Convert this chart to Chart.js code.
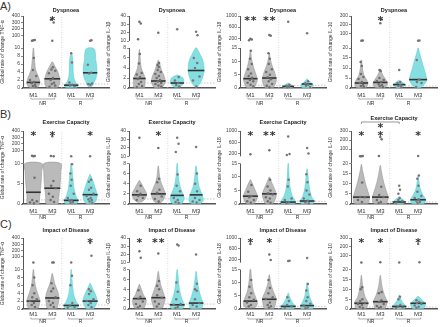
<!DOCTYPE html>
<html>
<head>
<meta charset="utf-8">
<script src="https://cdn.jsdelivr.net/npm/chart.js@4.4.0/dist/chart.umd.min.js"></script>
<style>
html, body { margin: 0; padding: 0; background: #fff; }
#fig { position: relative; width: 440px; height: 327px; overflow: hidden; font-family: "Liberation Sans", Arial, sans-serif; }
#fig canvas { position: absolute; }
.lab { position: absolute; font-size: 11px; color: #333; line-height: 11px; }
</style>
</head>
<body>
<div id="fig">
  <div class="lab" style="left:0px;top:1px">A)</div>
  <div class="lab" style="left:0px;top:109px">B)</div>
  <div class="lab" style="left:0px;top:219px">C)</div>
</div>
<script>
// --- categories / labels ---
const xLabels = ['M1', 'M3', 'M1', 'M3'];
const groupLabels = ['NR', 'R'];
const rowTitles = ['Dyspnoea', 'Exercise Capacity', 'Impact of Disease'];
const markers = ['TNF-α', 'IL-1β', 'IL-18', 'IL-10'];

// broken axis: [lower max, upper min, upper max]
const tnfBreak = [10, 10, 400];
const il1bBreak = [8, 10, 40];
const il18Break = [15, 100, 1000];
const il10Break = [20, 20, 300];

// tick labels
const tnfLow = [0, 2, 4, 6, 8, 10];
const tnfLowB = [0, 5, 10];
const tnfUp = [100, 200, 300, 400];
const il1bLow = [0, 2, 4, 6, 8];
const il1bUp = [10, 20, 30, 40];
const il18Low = [0, 5, 10, 15];
const il18Up = [200, 600, 1000];
const il10Low = [0, 5, 10, 15, 20];
const il10Up = [100, 200, 300];

// --- A) Dyspnoea ---
const a1Pts = [[20, 25, 15, 7.5, 4.5, 3, 2, 1.5, 1.2, 0.8, 0.5, 0.3], [12, 300, 340, 5.2, 4.6, 4.3, 3.7, 2.5, 2.0, 1.3, 1.0, 0.6, 0.3], [8.7, 6.4, 1.4, 0.8, 0.6, 0.4], [15, 20, 5.8, 3.8, 3.6, 1.1, 1.0, 0.8]];
const a1Med = [1.4, 2.3, 0.7, 3.8];
const a1Vio = [
  [[0.2, 0.22], [1, 0.33], [2, 0.32], [3, 0.25], [4.5, 0.12], [6, 0.08], [8, 0.04], [10, 0.01]],
  [[0.2, 0.3], [1, 0.38], [2, 0.4], [3, 0.36], [4.2, 0.28], [5.3, 0.15], [6.5, 0.02]],
  [[0.2, 0.3], [0.7, 0.35], [1.5, 0.22], [3, 0.12], [5, 0.1], [7, 0.08], [8.8, 0.02]],
  [[0.4, 0.1], [1.5, 0.22], [3, 0.34], [5, 0.36], [7, 0.3], [9.5, 0.25], [10, 0.12]]
];
const a1Stars = [[2, 1]];

const a2Pts = [[33, 31, 12, 6.8, 4.9, 3.0, 2.7, 2.2, 1.8, 1.2, 0.8, 0.4, 0.2], [20, 5, 4.6, 4.2, 3.6, 3.2, 2.8, 2.4, 2.0, 1.6, 1.3, 1.0, 0.8, 0.5, 0.3], [24, 2.2, 1.5, 1.0, 0.6, 0.3], [21, 17, 6, 5, 4, 2.3, 1.5, 0.3]];
const a2Med = [1.9, 1.4, 1.0, 3.5];
const a2Vio = [
  [[0.1, 0.28], [1, 0.3], [2, 0.3], [3, 0.2], [4, 0.1], [5.5, 0.05], [7.7, 0.01]],
  [[0.1, 0.2], [0.8, 0.33], [1.5, 0.36], [2.5, 0.3], [3.5, 0.18], [4.5, 0.1], [5.5, 0.02]],
  [[0.2, 0.15], [0.7, 0.3], [1.3, 0.35], [2, 0.3], [2.6, 0.02]],
  [[0.2, 0.05], [1, 0.22], [2.5, 0.38], [4, 0.42], [5.5, 0.36], [6.8, 0.2], [8, 0.03]]
];
const a2Stars = [];

const a3Pts = [[180, 150, 130, 14, 11, 9, 7, 5.4, 4.5, 3.8, 3, 2.5, 2, 1.2, 0.6], [316, 290, 13, 11, 9, 7, 6, 5, 4, 3.3, 2.5, 1.5, 0.8, 0.3], [795, 1.2, 0.8, 0.5, 0.3], [377, 2.5, 1.8, 1.2, 0.8, 0.4]];
const a3Med = [3.5, 3.75, 0.6, 1.5];
const a3Vio = [
  [[0.2, 0.2], [1.5, 0.3], [3, 0.36], [5, 0.3], [7, 0.2], [9, 0.12], [11, 0.06], [14, 0.01]],
  [[0.2, 0.22], [1.5, 0.32], [3, 0.37], [5, 0.32], [7, 0.22], [9, 0.12], [11, 0.05], [13, 0.01]],
  [[0.1, 0.2], [0.6, 0.28], [1.2, 0.15], [1.8, 0.02]],
  [[0.1, 0.25], [1, 0.32], [2, 0.2], [3.3, 0.02]]
];
const a3Stars = [[1, 2], [2, 2]];

const a4Pts = [[22, 25, 13, 11, 7, 5.5, 4.5, 3, 2.5, 1.5, 1, 0.5], [218, 260, 9, 8.5, 5, 4, 3.5, 3, 2, 1.5, 1, 0.5], [9, 3, 2.5, 1.5, 1, 0.5], [22, 26, 14, 4.2, 3, 2.5, 0.5]];
const a4Med = [2.5, 2.8, 1.7, 4.2];
const a4Vio = [
  [[0.2, 0.25], [2, 0.34], [4, 0.28], [6, 0.15], [9, 0.07], [12, 0.03], [14, 0.01]],
  [[0.2, 0.25], [2, 0.38], [4, 0.3], [6, 0.16], [8, 0.06], [9.5, 0.01]],
  [[0.1, 0.1], [1.5, 0.32], [2.5, 0.22], [3.8, 0.02]],
  [[0.3, 0.15], [2, 0.35], [4, 0.45], [6, 0.42], [10, 0.3], [14, 0.18], [18, 0.06], [20, 0.01]]
];
const a4Stars = [[2, 1]];

// --- B) Exercise Capacity ---
const b1Pts = [[12, 15, 20, 6.5, 1.0, 0.7, 0.4, 0.2], [320, 12, 15, 5.7, 4.5, 3.9, 2.5, 1.8, 1.0, 0.5], [10.5, 9.8, 7.5, 6, 4.5, 2.5, 1.5, 1.0, 0.8, 0.5, 0.3], [12, 6, 5.5, 4, 3.5, 2.5, 2, 1.5, 1.2, 1.0, 0.6, 0.3]];
const b1Med = [2.9, 3.9, 0.9, 2.3];
const b1Vio = [
  [[0, 0.3], [2, 0.34], [5, 0.4], [8, 0.44], [10, 0.45]],
  [[0, 0.3], [2, 0.35], [5, 0.42], [8, 0.45], [10, 0.45]],
  [[0.1, 0.3], [0.8, 0.37], [2, 0.25], [4, 0.14], [6, 0.1], [8, 0.06], [10, 0.01]],
  [[0.1, 0.2], [1, 0.33], [2.3, 0.37], [3.5, 0.3], [5, 0.2], [6.3, 0.1], [7.3, 0.01]]
];
const b1Stars = [[1, 1], [2, 1], [4, 1]];

const b2Pts = [[32, 3.6, 2.5, 2, 1.6, 1.2, 0.8], [20, 5, 4.3, 2.8, 2.2, 1.5, 1.0, 0.5], [32, 25, 15, 5.8, 3.6, 2.5, 1.2, 0.8, 0.4, 0.2], [21, 6, 4, 2.5, 1.2, 0.8, 0.5, 0.3]];
const b2Med = [1.8, 2.0, 1.7, 1.8];
const b2Vio = [
  [[0.4, 0.12], [1, 0.3], [2, 0.38], [3, 0.25], [4.6, 0.02]],
  [[0.3, 0.15], [1, 0.3], [2, 0.37], [3, 0.28], [4.5, 0.12], [6, 0.05], [7.5, 0.01]],
  [[0.1, 0.25], [1, 0.37], [2, 0.3], [3.5, 0.15], [5.5, 0.06], [8, 0.01]],
  [[0.1, 0.25], [0.8, 0.38], [2, 0.3], [3.5, 0.15], [5.5, 0.07], [7.5, 0.01]]
];
const b2Stars = [[2, 1]];

const b3Pts = [[172, 7, 4.5, 3, 2.5, 1.5, 1.0, 0.5], [316, 9, 6.5, 5, 4, 3.5, 2.5, 2, 1, 0.5], [809, 180, 150, 9, 6.5, 2, 1.5, 0.6, 0.3], [400, 200, 11, 8, 5, 3.5, 2, 1.2, 0.6, 0.3]];
const b3Med = [2.9, 3.75, 0.7, 1.1];
const b3Vio = [
  [[0.2, 0.2], [1.5, 0.33], [3, 0.37], [5, 0.26], [7, 0.14], [9, 0.01]],
  [[0.2, 0.2], [1.5, 0.3], [3.5, 0.37], [6, 0.25], [8, 0.12], [10, 0.01]],
  [[0.1, 0.35], [1, 0.38], [3, 0.22], [6, 0.1], [10, 0.05], [15, 0.01]],
  [[0.1, 0.3], [1, 0.37], [3, 0.22], [6, 0.12], [9, 0.07], [13, 0.01]]
];
const b3Stars = [[1, 1], [2, 2]];

const b4Pts = [[22, 24, 21, 10.6, 3.5, 3.3, 2, 1], [233, 210, 24, 8.5, 4.5, 3.5, 2, 1, 0.5], [9, 7, 5, 3, 2, 1.5, 0.5], [24, 14, 12.5, 9, 6, 4, 3, 2.3, 1.5, 1, 0.5]];
const b4Med = [3.4, 3.4, 1.0, 2.1];
const b4Vio = [
  [[0.2, 0.35], [3, 0.43], [6, 0.35], [10, 0.22], [14, 0.12], [17, 0.05], [19.5, 0.01]],
  [[0.2, 0.33], [3, 0.42], [6, 0.33], [10, 0.2], [14, 0.1], [17, 0.04], [19, 0.01]],
  [[0.1, 0.2], [1, 0.32], [2, 0.22], [3.5, 0.02]],
  [[0.1, 0.3], [1.5, 0.4], [3, 0.35], [5, 0.22], [8, 0.1], [11, 0.05], [14, 0.01]]
];
const b4Stars = [[1, 1], [2, 1], [4, 1]];
const b4Bracket = [1, 3];

// --- C) Impact of Disease ---
const c1Pts = [[10.5, 8, 6, 4, 3, 2.5, 2, 1.5, 1.0, 0.5], [12, 14, 6.5, 5.2, 4.5, 3, 2, 1.5, 1, 0.5], [12, 8.4, 6, 1.5, 0.8, 0.5, 0.3], [322, 119, 5, 4.5, 3.8, 2.5, 2, 1.5, 1, 0.5]];
const c1Med = [2.0, 2.8, 0.9, 2.0];
const c1Vio = [
  [[0.2, 0.25], [1.5, 0.33], [2.5, 0.33], [4, 0.22], [6, 0.1], [8, 0.05], [10, 0.01]],
  [[0.2, 0.25], [1.5, 0.32], [3, 0.35], [4.5, 0.28], [6.5, 0.12], [9, 0.01]],
  [[0.1, 0.3], [0.9, 0.38], [2, 0.25], [4, 0.12], [7, 0.05], [10, 0.01]],
  [[0.1, 0.2], [1, 0.3], [2, 0.37], [3.5, 0.3], [5, 0.15], [6.5, 0.01]]
];
const c1Stars = [[4, 1]];

const c2Pts = [[24, 16, 3.8, 2.5, 2.1, 1.5, 1.0, 0.6, 0.3], [21, 5.7, 4.7, 4, 2.8, 2.3, 1.5, 1, 0.5], [32, 31, 5.4, 3.5, 2, 1, 0.85, 0.4, 0.2], [20, 5.1, 4.0, 3.7, 2, 1.2, 0.8, 0.5]];
const c2Med = [2.1, 2.3, 0.85, 1.2];
const c2Vio = [
  [[0.2, 0.25], [1, 0.33], [1.8, 0.36], [3, 0.2], [5, 0.01]],
  [[0.2, 0.22], [1, 0.3], [2, 0.36], [3.5, 0.25], [5, 0.12], [6.5, 0.05], [7.6, 0.01]],
  [[0.1, 0.3], [0.8, 0.37], [2, 0.25], [4, 0.12], [6, 0.06], [8, 0.01]],
  [[0.1, 0.28], [1, 0.37], [2.5, 0.25], [4, 0.14], [6, 0.06], [7.6, 0.01]]
];
const c2Stars = [[1, 1], [2, 2]];

const c3Pts = [[784, 11, 8.5, 6, 4.5, 3.5, 2.5, 1.5, 1.0], [400, 200, 11, 8, 6, 4.5, 3.8, 2.5, 1.5, 1.0, 0.5], [160, 170, 4.5, 3, 1.5, 1.0, 0.5], [269, 9.5, 7, 4.5, 3, 2, 1.3, 0.6, 0.3]];
const c3Med = [3.0, 3.7, 1.0, 1.3];
const c3Vio = [
  [[0.5, 0.25], [2, 0.37], [4, 0.3], [7, 0.15], [10, 0.08], [13, 0.04], [15, 0.02]],
  [[0.2, 0.25], [2, 0.33], [4, 0.36], [6, 0.25], [9, 0.1], [11.5, 0.04], [13, 0.01]],
  [[0.1, 0.3], [1, 0.37], [2.5, 0.22], [4.5, 0.08], [6, 0.01]],
  [[0.1, 0.3], [1, 0.36], [2.5, 0.25], [5, 0.12], [8, 0.05], [10, 0.01]]
];
const c3Stars = [[1, 1], [2, 1]];

const c4Pts = [[22, 11, 10, 5, 4, 3, 2.5, 2, 1, 0.5], [24, 8.6, 8, 4.5, 3.5, 2.5, 1.5, 1, 0.5], [23, 6.2, 5, 2, 1.2, 0.8, 0.5], [233, 24, 4.5, 3.5, 3, 2.5, 1.8, 1.2, 0.6]];
const c4Med = [2.9, 3.7, 1.3, 2.9];
const c4Vio = [
  [[0.2, 0.25], [2, 0.33], [3.5, 0.35], [6, 0.2], [10, 0.1], [14, 0.04], [17, 0.01]],
  [[0.2, 0.25], [2, 0.33], [4, 0.36], [7, 0.22], [11, 0.1], [14, 0.05], [17, 0.01]],
  [[0.1, 0.25], [1.2, 0.36], [3, 0.2], [5, 0.08], [7, 0.01]],
  [[0.2, 0.28], [1.5, 0.38], [3, 0.38], [4.5, 0.22], [6.5, 0.01]]
];
const c4Stars = [[1, 1], [2, 1], [4, 1]];

const refLevel = 1;

// --- layout ---
const FONT = '"Liberation Sans", Arial, sans-serif';
const LOW_H = 40, UP_Y0 = 47, UP_H = 25, Y_MAX = 72;
const colLeft = [0, 106, 217, 328];
const rowTop = [0, 106, 217];
const rowH = [106, 114, 110];
const padTop = [16, 25, 21];
const plotH = [72, 73, 71];
const titleGap = [6, 9, 8];
const xLabPad = [4, 4, 2];
const brOff = [[11, 15.5], [10.5, 13.5], [10, 13]];
const jit = [0, 0.12, -0.12, 0.06, -0.06, 0.18, -0.18, 0.03, -0.09, 0.09, -0.03, 0.15, -0.15, 0.01, 0.2];

const greyFill = '#bababa', greyLine = '#999999';
const cyanFill = '#85dfe1', cyanLine = '#5dcfd3';

function tr(v, b) {
  const [lowMax, upMin, upMax] = b;
  if (v <= lowMax) return v / lowMax * LOW_H;
  if (v >= upMin) return UP_Y0 + (v - upMin) / (upMax - upMin) * UP_H;
  return LOW_H + (v - lowMax) / (upMin - lowMax) * (UP_Y0 - LOW_H);
}

function widthAt(prof, v) {
  if (v <= prof[0][0]) return prof[0][1];
  for (let i = 1; i < prof.length; i++) {
    if (v <= prof[i][0]) {
      const [v0, w0] = prof[i - 1], [v1, w1] = prof[i];
      return w0 + (w1 - w0) * (v - v0) / (v1 - v0);
    }
  }
  return 0;
}

const panels = [
  [a1Pts, a1Med, a1Vio, a1Stars], [a2Pts, a2Med, a2Vio, a2Stars], [a3Pts, a3Med, a3Vio, a3Stars], [a4Pts, a4Med, a4Vio, a4Stars],
  [b1Pts, b1Med, b1Vio, b1Stars], [b2Pts, b2Med, b2Vio, b2Stars], [b3Pts, b3Med, b3Vio, b3Stars], [b4Pts, b4Med, b4Vio, b4Stars],
  [c1Pts, c1Med, c1Vio, c1Stars], [c2Pts, c2Med, c2Vio, c2Stars], [c3Pts, c3Med, c3Vio, c3Stars], [c4Pts, c4Med, c4Vio, c4Stars]
];
const colBreaks = [tnfBreak, il1bBreak, il18Break, il10Break];
const colUp = [tnfUp, il1bUp, il18Up, il10Up];
const colLow = [tnfLow, il1bLow, il18Low, il10Low];

function drawStar(ctx, x, cy) {
  ctx.fillText('*', x, cy + 6.2);
}

const decor = {
  id: 'decor',
  afterDraw(chart, args, o) {
    const { ctx, chartArea: ca, scales: { x, y } } = chart;
    const b = o.brk;
    ctx.save();
    // y axis in two pieces
    ctx.strokeStyle = '#555';
    ctx.lineWidth = 1;
    [[0, b[0]], [b[1], b[2]]].forEach(([lo, hi]) => {
      ctx.beginPath();
      ctx.moveTo(ca.left + 0.5, y.getPixelForValue(tr(lo, b)));
      ctx.lineTo(ca.left + 0.5, y.getPixelForValue(tr(hi, b)));
      ctx.stroke();
    });
    // title
    ctx.fillStyle = '#222';
    ctx.font = 'bold 5.5px ' + FONT;
    ctx.textAlign = 'center';
    ctx.textBaseline = 'middle';
    ctx.fillText(o.title, (ca.left + ca.right) / 2, ca.top - o.titleGap);
    // significance stars
    ctx.font = 'bold 11px "DejaVu Sans"';
    ctx.textBaseline = 'alphabetic';
    ctx.fillStyle = '#333';
    o.stars.forEach(([g, n]) => {
      const px = x.getPixelForValue(g);
      if (n === 1) drawStar(ctx, px, ca.top + 1.5);
      else { drawStar(ctx, px - 3.3, ca.top + 1.5); drawStar(ctx, px + 3.3, ca.top + 1.5); }
    });
    // comparison bracket above (B4)
    if (o.bracket) {
      const x0 = x.getPixelForValue(o.bracket[0]), x1 = x.getPixelForValue(o.bracket[1]);
      const yy = ca.top - 9;
      ctx.strokeStyle = '#555';
      ctx.lineWidth = 0.6;
      ctx.beginPath();
      ctx.moveTo(x0, yy + 2); ctx.lineTo(x0, yy); ctx.lineTo(x1, yy); ctx.lineTo(x1, yy + 2);
      ctx.stroke();
      drawStar(ctx, (x0 + x1) / 2, yy + 3);
    }
    // group brackets under the x labels
    ctx.strokeStyle = '#777';
    ctx.lineWidth = 0.6;
    ctx.fillStyle = '#333';
    ctx.font = '5px ' + FONT;
    ctx.textBaseline = 'middle';
    ctx.textAlign = 'center';
    [[1, 2], [3, 4]].forEach(([g0, g1], k) => {
      const x0 = x.getPixelForValue(g0) - 2.5, x1 = x.getPixelForValue(g1) + 2.5;
      const yy = ca.bottom + o.brOff[0];
      ctx.beginPath();
      ctx.moveTo(x0, yy - 1.5); ctx.lineTo(x0, yy); ctx.lineTo(x1, yy); ctx.lineTo(x1, yy - 1.5);
      ctx.stroke();
      ctx.fillText(groupLabels[k], (x0 + x1) / 2, ca.bottom + o.brOff[1]);
    });
    ctx.restore();
  }
};

const fig = document.getElementById('fig');

panels.forEach((p, idx) => {
  const r = Math.floor(idx / 4), c = idx % 4;
  const [pts, med, vio, stars] = p;
  const b = colBreaks[c];
  const lowTicks = (c === 0 && r === 1) ? tnfLowB : colLow[c];
  const yTickVals = lowTicks.concat(colUp[c]);

  const canvas = document.createElement('canvas');
  canvas.width = 113;
  canvas.height = rowH[r];
  canvas.style.left = colLeft[c] + 'px';
  canvas.style.top = rowTop[r] + 'px';
  fig.appendChild(canvas);

  const datasets = [];
  // dotted reference line at 1 and divider between NR and R
  datasets.push({ data: [{ x: 0.45, y: tr(refLevel, b) }, { x: 5.0, y: tr(refLevel, b) }], borderColor: '#b0b0b0', borderWidth: 0.7, borderDash: [1.5, 1.5], pointRadius: 0, order: 5 });
  datasets.push({ data: [{ x: 2.5, y: 0 }, { x: 2.5, y: Y_MAX }], borderColor: '#cccccc', borderWidth: 0.7, borderDash: [1, 1.5], pointRadius: 0, order: 5 });

  for (let g = 0; g < 4; g++) {
    const cx = g + 1;
    const prof = vio[g];
    const isR = g >= 2;
    const right = prof.map(([v, w]) => ({ x: cx + w, y: tr(v, b) }));
    const left = prof.slice().reverse().map(([v, w]) => ({ x: cx - w, y: tr(v, b) }));
    datasets.push({
      data: right.concat(left, [right[0]]),
      fill: 'shape',
      backgroundColor: isR ? cyanFill : greyFill,
      borderColor: isR ? cyanLine : greyLine,
      borderWidth: 0.6,
      tension: 0.35,
      pointRadius: 0,
      order: 4
    });
    const mw = widthAt(prof, med[g]) + 0.03;
    datasets.push({
      data: [{ x: cx - mw, y: tr(med[g], b) }, { x: cx + mw, y: tr(med[g], b) }],
      borderColor: '#333',
      borderWidth: 1.6,
      pointRadius: 0,
      order: 2
    });
    datasets.push({
      data: pts[g].map((v, i) => {
        const lower = v <= b[0];
        const s = lower ? Math.max(0.35, Math.min(1, widthAt(prof, v) / 0.3)) : 0.6;
        return { x: cx + jit[i % jit.length] * s, y: tr(v, b) };
      }),
      showLine: false,
      pointRadius: 1.25,
      pointBackgroundColor: isR ? '#7d7378' : '#6e6e6e',
      pointBorderWidth: 0,
      clip: 4,
      order: 1
    });
  }

  new Chart(canvas, {
    type: 'line',
    data: { datasets },
    options: {
      responsive: false,
      animation: false,
      devicePixelRatio: 1,
      events: [],
      layout: { padding: { top: padTop[r], right: 0, bottom: 0, left: 0 } },
      plugins: {
        legend: { display: false },
        tooltip: { enabled: false },
        decor: {
          brk: b,
          title: rowTitles[r],
          titleGap: (idx === 7) ? 13 : titleGap[r],
          stars: stars,
          bracket: (idx === 7) ? b4Bracket : null,
          brOff: brOff[r]
        }
      },
      scales: {
        x: {
          type: 'linear',
          min: 0.45,
          max: 5.0,
          afterBuildTicks: s => { s.ticks = [1, 2, 3, 4].map(v => ({ value: v })); },
          afterFit: s => { s.height = rowH[r] - padTop[r] - plotH[r]; },
          ticks: { callback: (v, i) => xLabels[i], font: { size: 6, family: FONT }, color: '#333', padding: xLabPad[r], autoSkip: false, maxRotation: 0 },
          grid: { display: false, drawTicks: false },
          border: { display: true, color: '#555', width: 1.5 }
        },
        y: {
          type: 'linear',
          min: 0,
          max: Y_MAX,
          afterBuildTicks: s => { s.ticks = yTickVals.map(v => ({ value: tr(v, b) })); },
          afterFit: s => { s.width = 23; },
          ticks: { callback: (v, i) => String(yTickVals[i]), font: { size: 5, family: FONT }, color: '#444', padding: 1, autoSkip: false },
          grid: { display: true, drawOnChartArea: false, drawTicks: true, tickLength: 2, color: '#555', lineWidth: 0.7 },
          border: { display: false },
          title: { display: true, text: 'Global rate of change ' + markers[c], font: { size: 5, family: FONT }, color: '#333', padding: { top: 0, bottom: 1 } }
        }
      }
    },
    plugins: [decor]
  });
});
</script>
</body>
</html>
